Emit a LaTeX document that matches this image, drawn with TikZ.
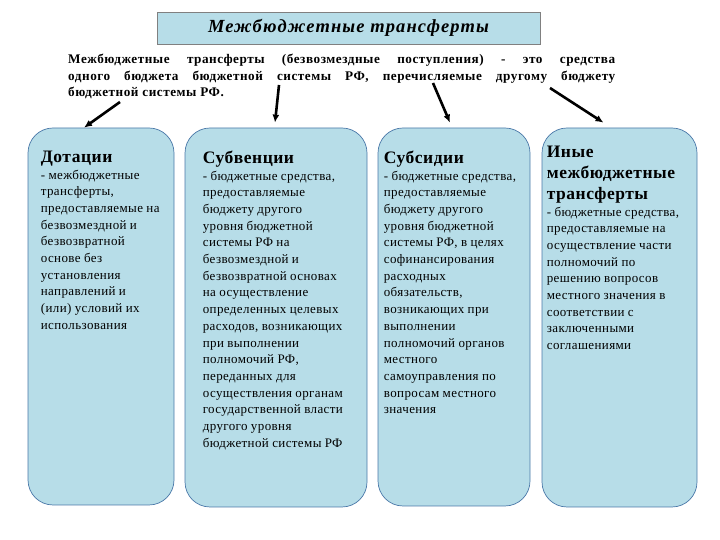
\documentclass[tikz,border=0pt]{standalone}
\usepackage{fontspec}
\setmainfont{Liberation Serif}
\newfontfamily\cardfont[LetterSpace=3]{Liberation Serif}
\newfontfamily\headfont[LetterSpace=3]{Liberation Serif}
\newfontfamily\parafont[LetterSpace=4]{Liberation Serif}
\newfontfamily\titlefont[LetterSpace=6]{Liberation Serif}
\usepackage{xcolor}
\usepackage{tikz}
\usetikzlibrary{arrows.meta,positioning,calc}

\definecolor{boxfill}{HTML}{B7DDE8}
\definecolor{boxline}{HTML}{4A78A8}
\newcommand{\hfont}{\headfont\fontsize{17.5}{21}\selectfont\bfseries}
\newcommand{\bfont}{\cardfont\fontsize{13}{16.7}\selectfont\mdseries}

\begin{document}
\begin{tikzpicture}[>=Latex,x=1pt,y=1pt,
  card/.style={draw=boxline,fill=boxfill,rounded corners=25pt,line width=0.7pt},
  cardtext/.style={anchor=north west,inner sep=0pt,align=left},
  arr/.style={->,line width=2.6pt,-{Latex[length=8pt,width=7pt]}}]
  \useasboundingbox (0,0) rectangle (720,540);
  \node[draw=gray,fill=boxfill,line width=0.7pt,minimum width=383pt,minimum height=32pt]
    (title) at (348.5,512) {\titlefont\fontsize{18.5}{20}\selectfont\bfseries\itshape Межбюджетные трансферты};
  \node[anchor=north west,inner sep=0pt,text width=547pt,align=justify] (def) at (68,486)
    {\parafont\fontsize{13.2}{16.5}\selectfont\bfseries Межбюджетные трансферты (безвозмездные поступления) - это средства\linebreak
     одного бюджета бюджетной системы РФ, перечисляемые другому бюджету\linebreak
     бюджетной системы РФ.\par};

  \node[card,minimum width=146pt,minimum height=377pt] (dot) at (101,223.5) {};
  \node[card,minimum width=182pt,minimum height=379pt] (subv) at (276,222.5) {};
  \node[card,minimum width=152pt,minimum height=378pt] (subs) at (454,223) {};
  \node[card,minimum width=155pt,minimum height=379pt] (other) at (619.5,222.5) {};

  \node[cardtext,below right=23pt and 13pt of dot.north west,text width=140pt] (dottext)
    {\hfont Дотации\par\bfont
     - межбюджетные\\ трансферты,\\ предоставляемые на\\ безвозмездной и\\ безвозвратной\\
     основе без\\ установления\\ направлений и\\ (или) условий их\\ использования\par};
  \node[cardtext,below right=23pt and 18pt of subv.north west,text width=165pt] (subvtext)
    {\hfont Субвенции\par\bfont
     - бюджетные средства,\\ предоставляемые\\ бюджету другого\\ уровня бюджетной\\
     системы РФ на\\ безвозмездной и\\ безвозвратной основах\\ на осуществление\\
     определенных целевых\\ расходов, возникающих\\ при выполнении\\ полномочий РФ,\\
     переданных для\\ осуществления органам\\ государственной власти\\ другого уровня\\
     бюджетной системы РФ\par};
  \node[cardtext,below right=23pt and 6pt of subs.north west,text width=150pt] (substext)
    {\hfont Субсидии\par\bfont
     - бюджетные средства,\\ предоставляемые\\ бюджету другого\\ уровня бюджетной\\
     системы РФ, в целях\\ софинансирования\\ расходных\\ обязательств,\\
     возникающих при\\ выполнении\\ полномочий органов\\ местного\\
     самоуправления по\\ вопросам местного\\ значения\par};
  \node[cardtext,below right=18pt and 5pt of other.north west,text width=152pt] (othertext)
    {\hfont Иные\\ межбюджетные\\ трансферты\par\bfont
     - бюджетные средства,\\ предоставляемые на\\ осуществление части\\ полномочий по\\
     решению вопросов\\ местного значения в\\ соответствии с\\ заключенными\\ соглашениями\par};

  \coordinate (t1) at (120,438);
  \coordinate (t2) at (279,455);
  \coordinate (t3) at (433,457);
  \coordinate (t4) at (550,452);
  \draw[arr] (t1) -- ([xshift=-17pt,yshift=0pt]dot.north);
  \draw[arr] (t2) -- ([xshift=-1pt,yshift=5pt]subv.north);
  \draw[arr] (t3) -- ([xshift=-4pt,yshift=5pt]subs.north);
  \draw[arr] (t4) -- ([xshift=-16pt,yshift=5pt]other.north);
\end{tikzpicture}
\end{document}
